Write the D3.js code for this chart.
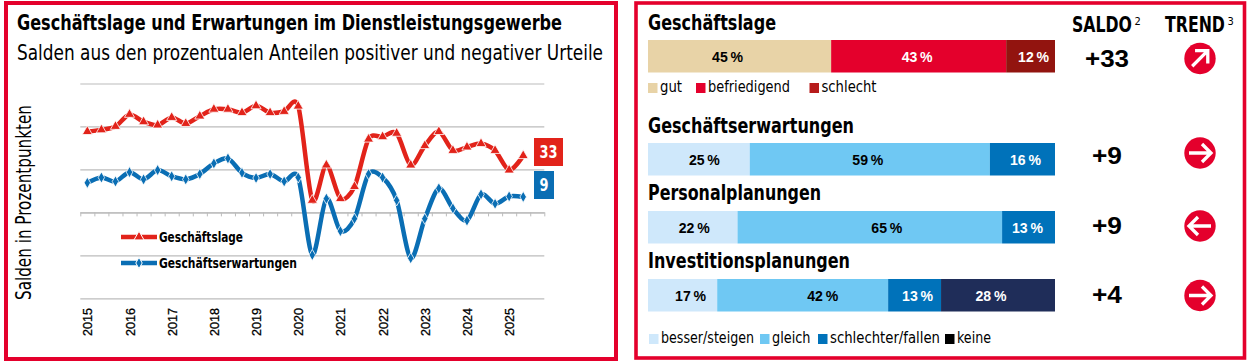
<!DOCTYPE html>
<html>
<head>
<meta charset="utf-8">
<script src="https://cdn.jsdelivr.net/npm/d3@7"></script>
<style>
  body { margin: 0; background: #fff; }
  svg { display: block; }
  text { font-family: "Liberation Sans Narrow", "DejaVu Sans Condensed", "Liberation Sans", sans-serif; fill: #000; }
</style>
</head>
<body>
<svg id="chart" width="1247" height="362"></svg>
<script>
// data
const years = ["2015","2016","2017","2018","2019","2020","2021","2022","2023","2024","2025"];
const lage = [47,48,50,57,52.7,50.8,55.2,51.7,56,60,60,58,62,58,58.7,61.8,7,27.5,8,15,42.6,44,46,27.5,38.8,47,36,38,40,36,24.6,33];
const erwartungen = [17.2,20.3,18,23.4,19.2,24.6,21,19.2,22.3,28.5,31.4,23,20,22.3,18,20.3,-24.8,8,-10.9,-3.7,22.3,20.3,7,-26.7,-3.7,14,2.3,-4.8,10.5,5,9.3,9];
const gridValues = [-50,-25,0,25,50,75];

const themes = ["Geschäftslage","Geschäftserwartungen","Personalplanungen","Investitionsplanungen"];
const shares = [[45,43,12],[25,59,16],[22,65,13],[17,42,13,28]];
const salden = ["+33","+9","+9","+4"];
const trendAngles = [-45,0,180,0];

const red = "#e2231a", blue = "#0a6eb4", frame = "#e4002c";
const lageColors = ["#e8d3a7","#e4002c","#92140f"];
const planColors = ["#cfe8fb","#6fc8f3","#0072ba","#1f2d59"];

const svg = d3.select("#chart");

// text helper, textLength squeezes the font to the measured width of the original
function label(g, str, x, y, size, opts = {}) {
  const t = g.append("text").attr("x", x).attr("y", y)
    .attr("font-size", size)
    .attr("font-weight", opts.bold ? "bold" : "normal")
    .attr("text-anchor", opts.anchor || "start")
    .text(str);
  if (opts.len) t.attr("textLength", opts.len).attr("lengthAdjust", "spacingAndGlyphs");
  if (opts.fill) t.style("fill", opts.fill);
  if (opts.family) t.style("font-family", opts.family);
  return t;
}

// frames
svg.append("rect").attr("x", 6).attr("y", 3).attr("width", 610).attr("height", 356)
  .attr("fill", "none").attr("stroke", frame).attr("stroke-width", 4);
svg.append("rect").attr("x", 636).attr("y", 3).attr("width", 608.5).attr("height", 355)
  .attr("fill", "none").attr("stroke", frame).attr("stroke-width", 3.6);

// ---- left panel
const left = svg.append("g");
label(left, "Geschäftslage und Erwartungen im Dienstleistungsgewerbe", 17, 30, 21, {bold: true, len: 545});
label(left, "Salden aus den prozentualen Anteilen positiver und negativer Urteile", 17, 60, 22, {len: 586});
label(left, "Salden in Prozentpunkten", 0, 0, 21, {len: 195, anchor: "middle"})
  .attr("x", null).attr("y", null)
  .attr("transform", "translate(31,202.5) rotate(-90)");

const x = d3.scaleLinear().domain([0, 33]).range([80.3, 544.3]);
const y = d3.scaleLinear().domain([-50, 75]).range([298.3, 83.5]);

// gridlines
svg.append("g")
  .attr("transform", "translate(80.3,0)")
  .call(d3.axisRight(y).tickValues(gridValues).tickSize(464).tickFormat(""))
  .call(g => g.select(".domain").remove())
  .call(g => g.selectAll("line").attr("stroke", "#bcbcbc").attr("stroke-width", 1.2));

// ticks on the zero line
svg.append("g")
  .attr("transform", `translate(0,${y(0)})`)
  .call(d3.axisBottom(x).tickValues(d3.range(0, 34)).tickSize(4).tickSizeOuter(0).tickFormat(""))
  .call(g => g.select(".domain").attr("stroke", "#bcbcbc").attr("stroke-width", 1.2))
  .call(g => g.selectAll("line").attr("stroke", "#bcbcbc"));

// year labels, three surveys per year
years.forEach((yr, i) => {
  svg.append("text")
    .attr("transform", `translate(${x(i * 3 + 0.5) + 5},308) rotate(-90)`)
    .attr("text-anchor", "end")
    .attr("font-size", 13.5)
    .attr("textLength", 28)
    .attr("lengthAdjust", "spacingAndGlyphs")
    .style("font-family", "Liberation Sans")
    .style("stroke", "#000").style("stroke-width", 0.3)
    .text(yr);
});

const line = d3.line()
  .x((d, i) => x(i + 0.5))
  .y(d => y(d))
  .curve(d3.curveCardinal.tension(0.15));

function series(values, color, symbol, size) {
  svg.append("path").datum(values)
    .attr("d", line)
    .attr("fill", "none")
    .attr("stroke", color)
    .attr("stroke-width", 4.5);
  svg.append("g").selectAll("path").data(values).join("path")
    .attr("d", d3.symbol().type(symbol).size(size))
    .attr("transform", (d, i) => `translate(${x(i + 0.5)},${y(d)})`)
    .attr("fill", color)
    .attr("stroke", "#fff")
    .attr("stroke-opacity", 0.8)
    .attr("stroke-width", 1);
}
series(lage, red, d3.symbolTriangle, 44);
series(erwartungen, blue, d3.symbolDiamond, 36);

// end value boxes
svg.append("rect").attr("x", 534).attr("y", 138).attr("width", 29).attr("height", 28).attr("fill", red);
svg.append("rect").attr("x", 534).attr("y", 171).attr("width", 20).attr("height", 28).attr("fill", blue);
label(svg, lage[lage.length - 1], 548.5, 158, 17, {bold: true, anchor: "middle", fill: "#fff", len: 18});
label(svg, erwartungen[erwartungen.length - 1], 544, 191, 17, {bold: true, anchor: "middle", fill: "#fff", len: 9});

// chart legend
svg.append("line").attr("x1", 121).attr("x2", 157).attr("y1", 237).attr("y2", 237).attr("stroke", red).attr("stroke-width", 4.5);
svg.append("path").attr("d", d3.symbol().type(d3.symbolTriangle).size(44))
  .attr("transform", "translate(139,237)").attr("fill", red).attr("stroke", "#fff").attr("stroke-width", 1);
label(svg, "Geschäftslage", 159, 241.5, 13.5, {bold: true, len: 84});
svg.append("line").attr("x1", 121).attr("x2", 157).attr("y1", 263).attr("y2", 263).attr("stroke", blue).attr("stroke-width", 4.5);
svg.append("path").attr("d", d3.symbol().type(d3.symbolDiamond).size(36))
  .attr("transform", "translate(139,263)").attr("fill", blue).attr("stroke", "#fff").attr("stroke-width", 1);
label(svg, "Geschäftserwartungen", 159, 267.5, 13.5, {bold: true, len: 138});

// ---- right panel
const barX = d3.scaleLinear().domain([0, 100]).range([648, 1055]);
const barTop = [40, 143, 211, 279];
const titleY = [30, 133, 200, 268];
const titleLen = [128, 206, 173, 202];
const barHeight = 32.5;
const saldoY = [67, 164, 234, 303];
const saldoLen = [44, 30, 30, 30];
const arrowY = [58.5, 153, 226, 295.5];
// the percent labels are not centred in their segments in the original
const labelShift = [[-12,-1.5,3],[5.5,-2,3],[1.5,17,-1],[8,20,3,-7]];

themes.forEach((name, r) => {
  label(svg, name, 648, titleY[r], 20.5, {bold: true, len: titleLen[r]});

  const colors = r === 0 ? lageColors : planColors;
  const row = shares[r];
  const cum = d3.cumsum(row);
  const g = svg.append("g");
  g.selectAll("rect").data(row).join("rect")
    .attr("x", (d, i) => barX(cum[i] - d))
    .attr("width", d => barX(d) - barX(0))
    .attr("y", barTop[r])
    .attr("height", barHeight)
    .attr("fill", (d, i) => colors[i]);
  g.selectAll("text").data(row).join("text")
    .attr("x", (d, i) => barX(cum[i] - d / 2) + labelShift[r][i])
    .attr("y", barTop[r] + 22)
    .attr("text-anchor", "middle")
    .attr("font-size", 15.5)
    .attr("font-weight", "bold")
    .attr("textLength", 31)
    .attr("lengthAdjust", "spacingAndGlyphs")
    .style("font-family", "Liberation Sans")
    .style("fill", (d, i) => (r === 0 ? i > 0 : i > 1) ? "#fff" : "#000")
    .text(d => d + "\u202f%");

  label(svg, salden[r], 1107, saldoY[r], 24, {bold: true, anchor: "middle", family: "Liberation Sans", len: saldoLen[r]});

  // trend arrow
  const a = svg.append("g").attr("transform", `translate(1200,${arrowY[r]}) rotate(${trendAngles[r]})`);
  a.append("circle").attr("r", 15.7).attr("fill", frame);
  a.append("path").attr("d", "M-11,0H10M2,-9L11,0L2,9")
    .attr("fill", "none").attr("stroke", "#fff").attr("stroke-width", 3.3);
});

// column heads, scaled instead of textLength so the superscript sits clear of the word
function head(str, sup, xPos, width) {
  const t = svg.append("text").attr("font-size", 21).attr("font-weight", "bold").text(str);
  const sx = width / t.node().getComputedTextLength();
  t.attr("transform", `translate(${xPos},32) scale(${sx},1)`);
  label(svg, sup, xPos + width + 2.5, 25, 11, {});
}
head("SALDO", "2", 1072, 60);
head("TREND", "3", 1165, 60);

// bar legends
const legendTop = ["gut","befriedigend","schlecht"];
const legendTopColors = ["#e8d3a7","#e4002c","#b71c1c"];
const legendTopX = [648,696,809.5];
const legendTopLen = [22,82,55];
const legendBottom = ["besser/steigen","gleich","schlechter/fallen","keine"];
const legendBottomColors = ["#cfe8fb","#6fc8f3","#0072ba","#000"];
const legendBottomX = [649,760,818,945];
const legendBottomLen = [93,38.5,110,34];

function legend(names, colors, xs, lens, yPos) {
  names.forEach((n, i) => {
    svg.append("rect").attr("x", xs[i]).attr("y", yPos - 4).attr("width", 9.5).attr("height", 10).attr("fill", colors[i]);
    label(svg, n, xs[i] + 12, yPos + 5, 16, {len: lens[i]});
  });
}
legend(legendTop, legendTopColors, legendTopX, legendTopLen, 87);
legend(legendBottom, legendBottomColors, legendBottomX, legendBottomLen, 338);
</script>
</body>
</html>
